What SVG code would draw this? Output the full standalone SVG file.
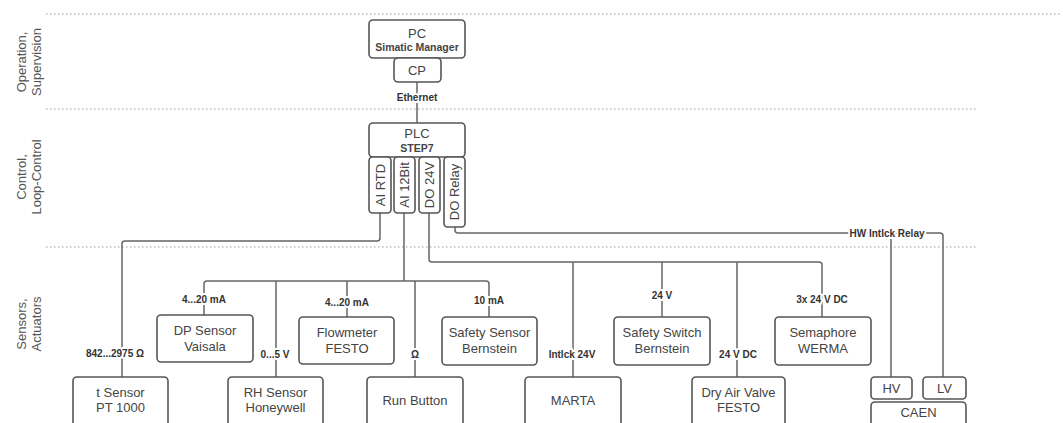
<svg xmlns="http://www.w3.org/2000/svg" width="1063" height="423" viewBox="0 0 1063 423">
<style>
.bg{fill:#fff}
.sep{stroke:#9a9a9a;stroke-width:1.2;stroke-dasharray:1.5 2.5;fill:none}
.side{font-family:"Liberation Sans",Arial,sans-serif;font-size:13px;fill:#555;text-anchor:middle}
.box{fill:#fff;stroke:#555;stroke-width:1.6}
.t{font-family:"Liberation Sans",Arial,sans-serif;font-size:13px;fill:#444;text-anchor:middle}
.tb{font-family:"Liberation Sans",Arial,sans-serif;font-size:10.5px;font-weight:bold;fill:#444;text-anchor:middle}
.c{fill:none;stroke:#666;stroke-width:1.5}
.lbl{font-family:"Liberation Sans",Arial,sans-serif;font-size:10px;font-weight:bold;fill:#333;text-anchor:middle;stroke:#fff;stroke-width:4;paint-order:stroke;stroke-linejoin:round}
</style>
<rect class="bg" x="0" y="0" width="1063" height="423"/>
<g id="separators">
<line class="sep" x1="46" y1="14" x2="1062" y2="14"/>
<line class="sep" x1="46" y1="109" x2="978" y2="109"/>
<line class="sep" x1="46" y1="247" x2="978" y2="247"/>
</g>
<g id="layer-labels">
<text class="side" transform="translate(26,62) rotate(-90)">Operation,</text>
<text class="side" transform="translate(41,62) rotate(-90)">Supervision</text>
<text class="side" transform="translate(26,177) rotate(-90)">Control,</text>
<text class="side" transform="translate(41,177) rotate(-90)">Loop-Control</text>
<text class="side" transform="translate(26,324) rotate(-90)">Sensors,</text>
<text class="side" transform="translate(41,324) rotate(-90)">Actuators</text>
</g>
<g id="connectors">
<path class="c" d="M417 82 V123"/>
<path class="c" d="M380 213 V238 Q380 241 377 241 H125 Q122 241 122 244 V377"/>
<path class="c" d="M404 213 V281"/>
<path class="c" d="M204 315 V284 Q204 281 207 281 H486 Q489 281 489 284 V317"/>
<path class="c" d="M276 281 V377"/>
<path class="c" d="M347 281 V317"/>
<path class="c" d="M415 281 V377"/>
<path class="c" d="M429 213 V259 Q429 262 432 262 H819 Q822 262 822 265 V317"/>
<path class="c" d="M573 262 V377"/>
<path class="c" d="M662 262 V317"/>
<path class="c" d="M737 262 V377"/>
<path class="c" d="M455 227 V230 Q455 233 458 233 H940 Q943 233 943 236 V377"/>
<path class="c" d="M891 233 V377"/>
<text class="lbl" x="417" y="100.5">Ethernet</text>
<text class="lbl" x="115" y="356.5">842...2975 Ω</text>
<text class="lbl" x="204" y="302.5">4...20 mA</text>
<text class="lbl" x="275" y="357.5">0...5 V</text>
<text class="lbl" x="347" y="305.5">4...20 mA</text>
<text class="lbl" x="415" y="357.5">Ω</text>
<text class="lbl" x="489" y="303.5">10 mA</text>
<text class="lbl" x="572" y="357.5">Intlck 24V</text>
<text class="lbl" x="662" y="298.5">24 V</text>
<text class="lbl" x="738" y="357.5">24 V DC</text>
<text class="lbl" x="822" y="302.5">3x 24 V DC</text>
<text class="lbl" x="887" y="236.5">HW Intlck Relay</text>
</g>
<g id="pc">
<rect class="box" x="369" y="20" width="96" height="38" rx="4"/>
<text class="t" x="417" y="38">PC</text>
<text class="tb" x="417" y="51">Simatic Manager</text>
</g>
<g id="cp">
<rect class="box" x="394" y="58" width="47" height="24" rx="4"/>
<text class="t" x="417" y="74.5">CP</text>
</g>
<g id="plc">
<rect class="box" x="369" y="123" width="96" height="34" rx="4"/>
<text class="t" x="417" y="138">PLC</text>
<text class="tb" x="417" y="151.5">STEP7</text>
</g>
<g id="ai-rtd">
<rect class="box" x="369" y="157" width="22" height="56" rx="3.5"/>
<text class="t" transform="translate(384.5,185) rotate(-90)">AI RTD</text>
</g>
<g id="ai-12bit">
<rect class="box" x="394" y="157" width="21" height="56" rx="3.5"/>
<text class="t" transform="translate(409,185) rotate(-90)">AI 12Bit</text>
</g>
<g id="do-24v">
<rect class="box" x="419" y="157" width="21" height="56" rx="3.5"/>
<text class="t" transform="translate(434,185) rotate(-90)">DO 24V</text>
</g>
<g id="do-relay">
<rect class="box" x="444" y="157" width="21" height="70" rx="3.5"/>
<text class="t" transform="translate(459,192) rotate(-90)">DO Relay</text>
</g>
<g id="dp-sensor">
<rect class="box" x="157" y="315" width="96" height="47" rx="4"/>
<text class="t" x="205" y="335">DP Sensor</text>
<text class="t" x="205" y="350.5">Vaisala</text>
</g>
<g id="flowmeter">
<rect class="box" x="299" y="317" width="95" height="47" rx="4"/>
<text class="t" x="347" y="337">Flowmeter</text>
<text class="t" x="347" y="352.5">FESTO</text>
</g>
<g id="safety-sensor">
<rect class="box" x="442" y="317" width="95" height="48" rx="4"/>
<text class="t" x="489.5" y="337">Safety Sensor</text>
<text class="t" x="489.5" y="352.5">Bernstein</text>
</g>
<g id="safety-switch">
<rect class="box" x="614" y="317" width="96" height="48" rx="4"/>
<text class="t" x="662" y="337">Safety Switch</text>
<text class="t" x="662" y="352.5">Bernstein</text>
</g>
<g id="semaphore">
<rect class="box" x="775" y="317" width="96" height="48" rx="4"/>
<text class="t" x="823" y="337">Semaphore</text>
<text class="t" x="823" y="352.5">WERMA</text>
</g>
<g id="t-sensor">
<rect class="box" x="73" y="377" width="95" height="60" rx="4"/>
<text class="t" x="120.5" y="396.5">t Sensor</text>
<text class="t" x="120.5" y="412">PT 1000</text>
</g>
<g id="rh-sensor">
<rect class="box" x="228" y="377" width="95" height="60" rx="4"/>
<text class="t" x="275.5" y="396.5">RH Sensor</text>
<text class="t" x="275.5" y="412">Honeywell</text>
</g>
<g id="run-button">
<rect class="box" x="367" y="377" width="96" height="60" rx="4"/>
<text class="t" x="415" y="404.5">Run Button</text>
</g>
<g id="marta">
<rect class="box" x="525" y="377" width="96" height="60" rx="4"/>
<text class="t" x="573" y="404.5">MARTA</text>
</g>
<g id="dry-air-valve">
<rect class="box" x="692" y="377" width="93" height="60" rx="4"/>
<text class="t" x="738.5" y="396.5">Dry Air Valve</text>
<text class="t" x="738.5" y="412">FESTO</text>
</g>
<g id="hv">
<rect class="box" x="871" y="377" width="41" height="22" rx="3.5"/>
<text class="t" x="891.5" y="392.5">HV</text>
</g>
<g id="lv">
<rect class="box" x="923" y="377" width="43" height="22" rx="3.5"/>
<text class="t" x="944.5" y="392.5">LV</text>
</g>
<g id="caen">
<rect class="box" x="871" y="402" width="95" height="40" rx="4"/>
<text class="t" x="918.5" y="417">CAEN</text>
</g>
</svg>
